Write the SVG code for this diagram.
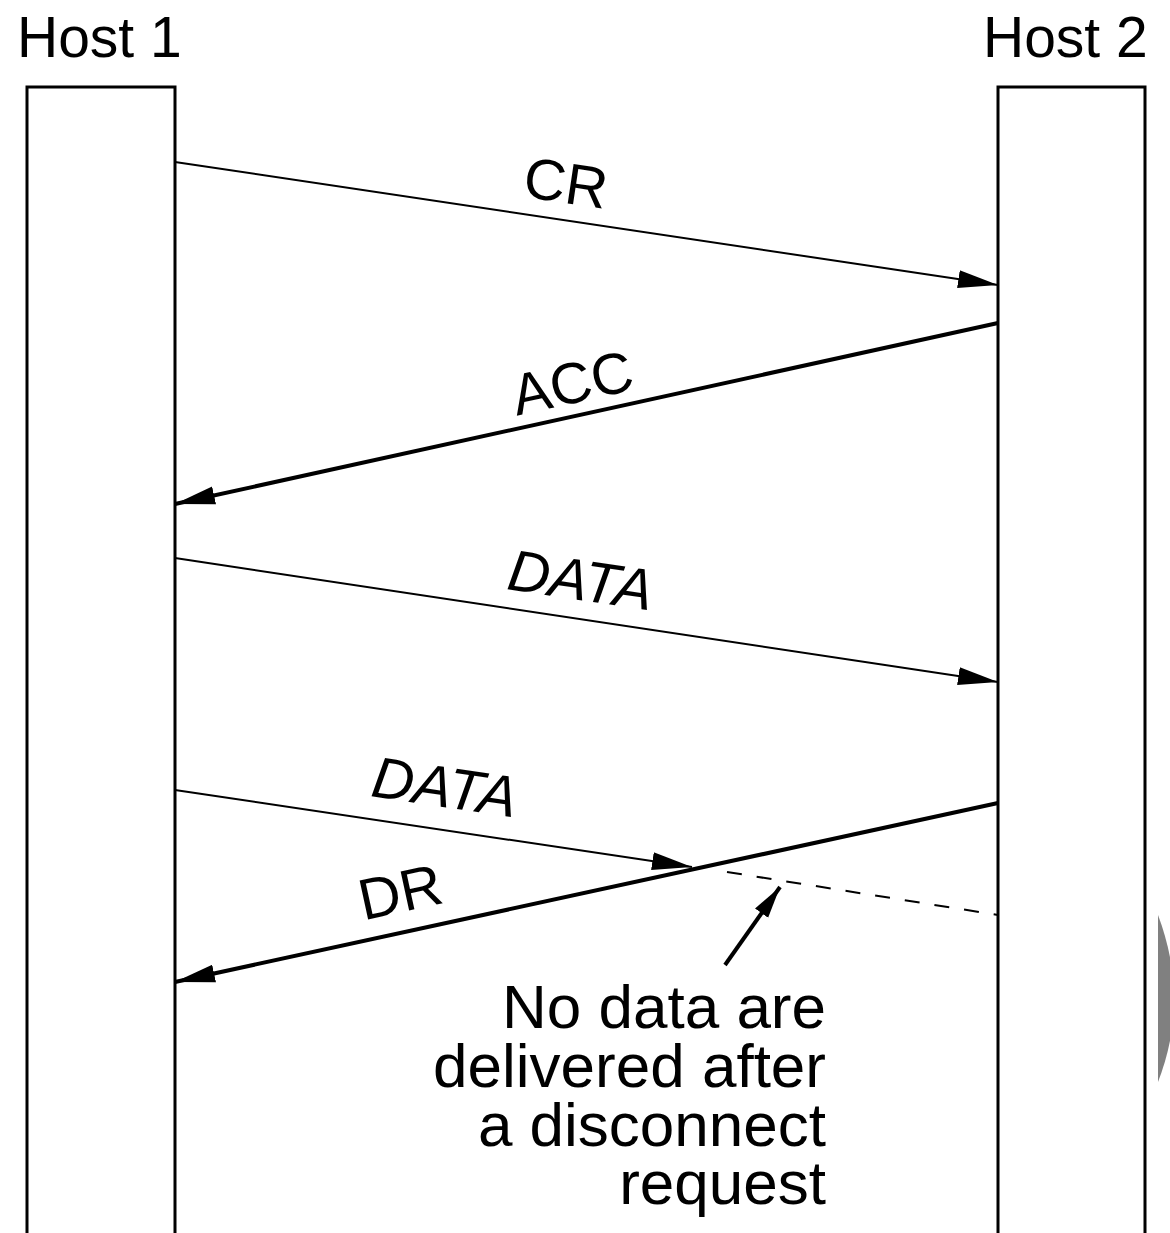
<svg xmlns="http://www.w3.org/2000/svg" width="1170" height="1233" viewBox="0 0 1170 1233">
<style>
text{font-family:"Liberation Sans",Arial,sans-serif;fill:#000}
.host{font-size:57px}
.lbl{font-size:58px}
.it{font-style:italic}
.note{font-size:62px;text-anchor:end}
.box{fill:none;stroke:#000;stroke-width:3}
.thin{stroke:#000;stroke-width:2;fill:none}
.thick{stroke:#000;stroke-width:4;fill:none}
</style>
<defs>
<marker id="ah" markerUnits="userSpaceOnUse" markerWidth="44" markerHeight="20" refX="40" refY="10" orient="auto">
<path d="M0,1 L40,10 L0,19 Z" fill="#000"/>
</marker>
<marker id="ahs" markerUnits="userSpaceOnUse" markerWidth="34" markerHeight="20" refX="32" refY="10" orient="auto">
<path d="M0,2 L32,10 L0,18 Z" fill="#000"/>
</marker>
</defs>
<g id="host1">
<text class="host" x="17" y="57">Host 1</text>
<path class="box" d="M27,1240 V87 H175 V1240"/>
</g>
<g id="host2">
<text class="host" x="983" y="57">Host 2</text>
<path class="box" d="M998,1240 V87 H1145 V1240"/>
</g>
<g id="connectors">
<line class="thin" x1="175" y1="162" x2="998" y2="285" marker-end="url(#ah)"/>
<line class="thick" x1="998" y1="323" x2="175" y2="504" marker-end="url(#ah)"/>
<line class="thin" x1="175" y1="558" x2="998" y2="682" marker-end="url(#ah)"/>
<line class="thin" x1="175" y1="790" x2="692" y2="867" marker-end="url(#ah)"/>
<line class="thin" x1="727" y1="872" x2="998" y2="915" stroke-dasharray="15,15"/>
<line class="thick" x1="998" y1="803" x2="175" y2="982" marker-end="url(#ah)"/>
<line class="thick" x1="725" y1="965" x2="780" y2="887" marker-end="url(#ahs)"/>
</g>
<g id="labels">
<text class="lbl" x="566" y="203" text-anchor="middle" transform="rotate(8.5 566 183)">CR</text>
<text class="lbl" x="572" y="403" text-anchor="middle" transform="rotate(-12.5 572 382)">ACC</text>
<text class="lbl it" x="581" y="600" text-anchor="middle" transform="rotate(8.5 581 579)">DATA</text>
<text class="lbl it" x="445" y="807" text-anchor="middle" transform="rotate(8.5 445 786)">DATA</text>
<text class="lbl" x="400" y="912" text-anchor="middle" transform="rotate(-12.3 400 891)">DR</text>
</g>
<g id="note">
<text class="note" x="826" y="1028"><tspan x="826" y="1028">No data are</tspan><tspan x="826" y="1087">delivered after</tspan><tspan x="826" y="1146">a disconnect</tspan><tspan x="826" y="1204">request</tspan></text>
</g>
<path d="M1158,915 Q1190,1000 1158,1082 Z" fill="#808080"/>
</svg>
